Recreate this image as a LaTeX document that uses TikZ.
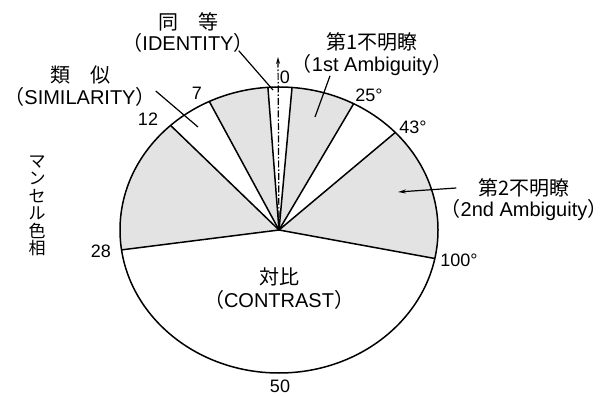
\documentclass[tikz,border=0pt]{standalone}
\usepackage{fontspec}
\setmainfont{Liberation Sans}
\newfontfamily\cjk{Noto Sans CJK JP}
\usepackage{tikz}
\usetikzlibrary{arrows.meta,positioning}
\newcommand{\kakkoL}{{\cjk （}}
\newcommand{\kakkoR}{{\cjk ）}}
\tikzset{
	ray/.style={line width=1.5pt},
	ambi/.style={fill=gray!22},
	lbl/.style={inner sep=0pt, font=\fontsize{20}{22}\selectfont},
	jlbl/.style={inner sep=0pt, font=\cjk\fontsize{20}{22}\selectfont},
	num/.style={inner sep=0pt, font=\fontsize{18}{20}\selectfont},
	pointer/.style={line width=1.2pt}
}

\begin{document}
\begin{tikzpicture}[x=1pt,y=1pt]
		\useasboundingbox (0,0) rectangle (607,396);
		\coordinate (H) at (279,166);
		
		% gray sectors (ambiguity)
		\foreach \s/\e in {94/116,133/188,62/85.3,-11.5/43}
		\fill[ambi] (H) -- ([shift={(\s:159 and 143)}]H) arc[start angle=\s, end angle=\e, x radius=159, y radius=143] -- cycle;
		
		\foreach \a in {94,85.3,116,133,188,62,43,-11.5}
		\draw[ray] (H) -- ([shift={(\a:159 and 143)}]H);
		\draw[ray] (H) ellipse [x radius=159, y radius=143];
		
		% axis
		\coordinate (axtop) at (278,339);
		\draw[line width=1.2pt, dash pattern=on 7pt off 2pt on 1.5pt off 2pt, -{Stealth[length=7pt,width=4pt]}] (H) -- (axtop);
		
		% labels
		\node[jlbl] (douto) at (188,374) {同　等};
		\node[lbl] (ident) at (188,353) {\kakkoL IDENTITY\kakkoR};
		\node[jlbl] (ruiji) at (80,321) {類　似};
		\node[lbl] (simil) at (80,299) {\kakkoL SIMILARITY\kakkoR};
		\node[jlbl] (fumei1) at (372,354) {第1不明瞭};
		\node[lbl] (amb1) at (372,331) {\kakkoL 1st Ambiguity\kakkoR};
		\node[jlbl] (fumei2) at (524,208) {第2不明瞭};
		\node[lbl] (amb2) at (524,186) {\kakkoL 2nd Ambiguity\kakkoR};
		\node[jlbl] (taihi) at (279,119) {対比};
		\node[lbl] (contr) at (279,96) {\kakkoL CONTRAST\kakkoR};
		\node[jlbl, align=center, font=\cjk\fontsize{17}{17.5}\selectfont] (hue) at (37,190) {マ\\ン\\セ\\ル\\色\\相};
		
		% scale values
		\foreach \n/\x/\y/\t in {n0/285/319/0, n7/197/303/7, n12/148/277/12, n28/101/145/28, n50/280/10/50,
			n25/369/301/25°, n43/413/269/43°, n100/459/136/100°}
		\node[num] (\n) at (\x,\y) {\t};
		
		% pointers
		\coordinate (idtip) at (273,306);
		\coordinate (simtip) at (198,269);
		\coordinate (amb1tip) at (315,279);
		\coordinate (amb2tip) at (398,204);
		\draw[pointer] ([xshift=-15pt,yshift=2pt]ident.south east) -- (idtip);
		\draw[pointer] ([yshift=6pt]simil.east) -- (simtip);
		\draw[pointer] ([xshift=-42pt]amb1.south) -- (amb1tip);
		\draw[pointer, -{Stealth[length=8pt,width=4pt]}] ([xshift=-22pt]fumei2.west) -- (amb2tip);
	\end{tikzpicture}
\end{document}
